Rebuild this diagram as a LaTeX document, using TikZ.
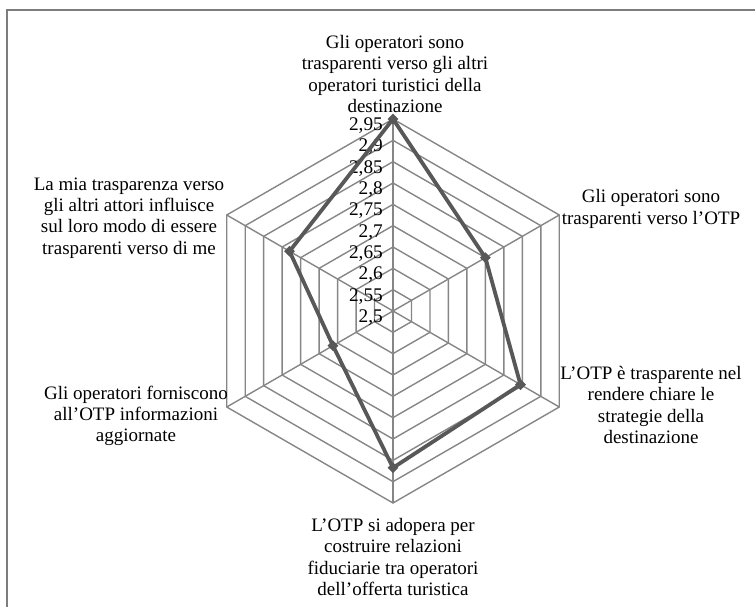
\documentclass[tikz,border=0pt]{standalone}
\usepackage{fontspec}
\setmainfont{Liberation Serif}
\usetikzlibrary{shapes.geometric}
\definecolor{gridgray}{RGB}{134,134,134}
\definecolor{seriesgray}{RGB}{88,88,88}
\definecolor{framegray}{RGB}{125,125,125}
\begin{document}
\begin{tikzpicture}[x=1pt,y=-1pt,
  grid/.style={draw=gridgray, line width=1.4pt},
  series/.style={draw=seriesgray, line width=3.8pt, line join=round},
  marker/.style={diamond, fill=seriesgray, inner sep=0pt, minimum size=11pt},
  tick/.style={anchor=base east, inner sep=0pt, font=\fontsize{19.3}{21}\selectfont},
  axislabel/.style={align=center, inner sep=0pt, font=\fontsize{19}{21.2}\selectfont}]
\useasboundingbox (0,0) rectangle (755,607);
% outer frame
\draw[framegray, line width=1.5pt] (7,607) -- (7,10) -- (755,10);
\def\st{21.333}
\begin{scope}[shift={(393,311)}]
  \coordinate (O) at (0,0);
  % rings
  \foreach \lv in {1,...,9}
    \draw[grid] (-90:{\lv*\st}) -- (-30:{\lv*\st}) -- (30:{\lv*\st})
      -- (90:{\lv*\st}) -- (150:{\lv*\st}) -- (210:{\lv*\st}) -- cycle;
  % spokes
  \foreach \a [count=\i] in {-90,-30,30,90,150,210} {
    \coordinate (v\i) at (\a:{9*\st});
    \draw[grid] (O) -- (v\i);
  }
  % scale labels
  \foreach \t [count=\i from 0] in {{2,5},{2,55},{2,6},{2,65},{2,7},{2,75},{2,8},{2,85},{2,9},{2,95}}
    \node[tick] (t\i) at (-10,{-\i*\st+11.5}) {\t};
  % data series
  \coordinate (p1) at (-90:{9*\st});
  \coordinate (p2) at (-30:{5*\st});
  \coordinate (p3) at (30:{6.9*\st});
  \coordinate (p4) at (90:{7.35*\st});
  \coordinate (p5) at (150:{3.25*\st});
  \coordinate (p6) at (210:{5.6*\st});
  \draw[series] (p1) -- (p2) -- (p3) -- (p4) -- (p5) -- (p6) -- cycle;
  \foreach \i in {1,...,6} \node[marker] (m\i) at (p\i) {};
\end{scope}
% axis labels
\node[axislabel] (a1) at (395,74) {Gli operatori sono\\trasparenti verso gli altri\\operatori turistici della\\destinazione};
\node[axislabel] (a2) at (651,209) {Gli operatori sono\\trasparenti verso l’OTP};
\node[axislabel] (a3) at (651,405) {L’OTP è trasparente nel\\rendere chiare le\\strategie della\\destinazione};
\node[axislabel] (a4) at (393,557) {L’OTP si adopera per\\costruire relazioni\\fiduciarie tra operatori\\dell’offerta turistica};
\node[axislabel] (a5) at (136,416) {Gli operatori forniscono\\all’OTP informazioni\\aggiornate};
\node[axislabel] (a6) at (129,218) {La mia trasparenza verso\\gli altri attori influisce\\sul loro modo di essere\\trasparenti verso di me};
\end{tikzpicture}
\end{document}
